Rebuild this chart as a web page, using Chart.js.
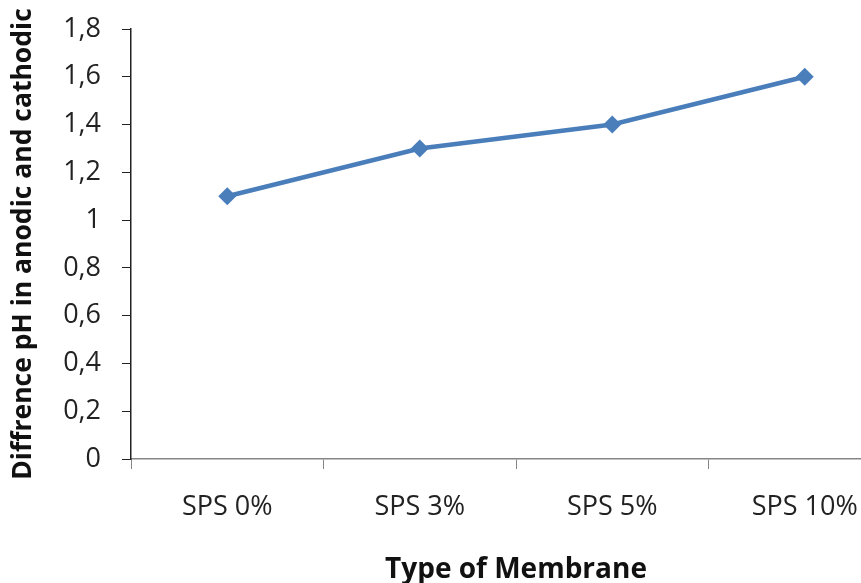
<!DOCTYPE html>
<html>
<head>
<meta charset="utf-8">
<script src="https://cdn.jsdelivr.net/npm/chart.js@4"></script>
<style>
  html, body { margin: 0; padding: 0; background: #fff; overflow: hidden; }
  #wrap { width: 910px; height: 583px; }
</style>
</head>
<body>
<div id="wrap"><canvas id="chart" width="910" height="583"></canvas></div>
<script>
const categories = ['SPS 0%', 'SPS 3%', 'SPS 5%', 'SPS 10%'];
const phDifference = [1.1, 1.3, 1.4, 1.6];
const yTickLabels = ['0', '0,2', '0,4', '0,6', '0,8', '1', '1,2', '1,4', '1,6', '1,8'];

const fontFamily = '"Open Sans", Lato, sans-serif';
const axisColor = '#868686';

const ctx = document.getElementById('chart').getContext('2d');
new Chart(ctx, {
    type: 'line',
    data: {
        labels: categories,
        datasets: [{
            data: phDifference,
            borderColor: '#4a7ebb',
            backgroundColor: '#4a7ebb',
            borderWidth: 4.5,
            pointStyle: 'rectRot',
            pointRadius: 9,
            pointHoverRadius: 9,
            pointBorderWidth: 0,
            tension: 0,
            fill: false
        }]
    },
    options: {
        responsive: false,
        animation: false,
        layout: { padding: { top: 29, right: 7, left: 0, bottom: 0 } },
        plugins: {
            legend: { display: false },
            tooltip: { enabled: false }
        },
        scales: {
            x: {
                offset: true,
                grid: {
                    offset: true,
                    drawOnChartArea: false,
                    drawTicks: true,
                    tickLength: 10,
                    color: axisColor
                },
                border: { color: axisColor, width: 1.5 },
                ticks: {
                    color: '#222',
                    padding: 22,
                    maxRotation: 0,
                    font: { family: fontFamily, size: 27 }
                },
                title: {
                    display: true,
                    text: 'Type of Membrane',
                    color: '#111',
                    padding: { top: 0, bottom: -4 },
                    font: { family: fontFamily, size: 28, weight: 'bold' }
                },
                afterFit: scale => {
                    scale.height = 124;
                    scale.paddingLeft = 0;
                    scale.paddingRight = 0;
                }
            },
            y: {
                min: 0,
                max: 1.8,
                grid: {
                    drawOnChartArea: false,
                    drawTicks: true,
                    tickLength: 9,
                    color: '#222'
                },
                border: { color: '#222', width: 1.5 },
                ticks: {
                    stepSize: 0.2,
                    color: '#222',
                    padding: 21,
                    font: { family: fontFamily, size: 27 },
                    callback: (value, index) => yTickLabels[index]
                },
                title: {
                    display: true,
                    text: 'Diffrence pH in anodic and cathodic',
                    color: '#111',
                    padding: { top: 8, bottom: 0 },
                    font: { family: fontFamily, size: 26.5, weight: 'bold' }
                },
                afterFit: scale => {
                    scale.width = 131;
                    scale.paddingTop = 0;
                    scale.paddingBottom = 0;
                }
            }
        }
    }
});
</script>
</body>
</html>
